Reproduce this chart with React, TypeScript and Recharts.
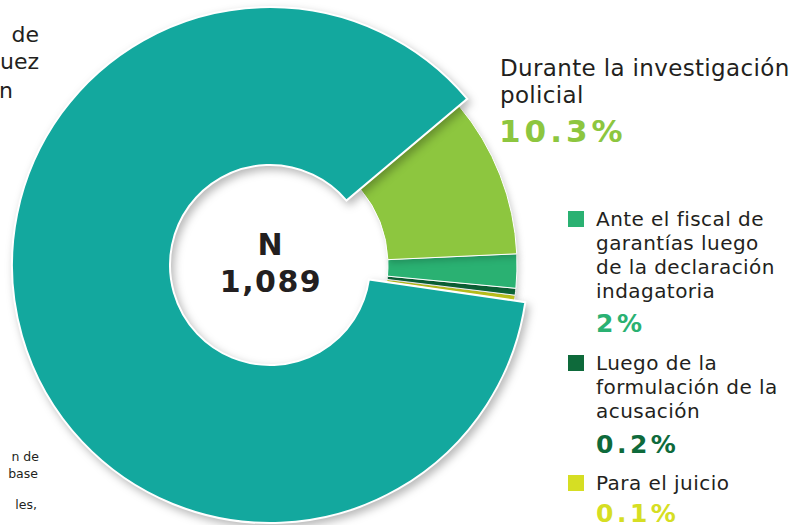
import React from "react";
import { PieChart, Pie, Cell } from "recharts";

// stage of the process, ordered counter-clockwise from the bottom of the green wedge
const stages = [
  "Para el juicio",
  "Luego de la formulación de la acusación",
  "Ante el fiscal de garantías luego de la declaración indagatoria",
  "Durante la investigación policial",
  "Resto",
];
const shares = [0.1, 0.2, 2, 10.3, 87.4];
const colors = ["#d6de23", "#0e6a3b", "#2ab172", "#8dc63f", "#13a89e"];
const shareLabels = ["0.1%", "0.2%", "2%", "10.3%", ""];
const totalN = "1,089";

const data = stages.map((name, i) => ({ name, value: shares[i] }));

// pie starts where the small wedges begin (below 3 o'clock)
const startAngle = -((shares[0] + shares[1] + shares[2]) / 100) * 360;

const CX = 270;
const CY = 265;
const FONT = "Verdana, 'DejaVu Sans', sans-serif";
const TEXT = "#231f20";

const legendItems = [
  { idx: 2, lines: ["Ante el fiscal de", "garantías luego", "de la declaración", "indagatoria"], top: 211, pctY: 332 },
  { idx: 1, lines: ["Luego de la", "formulación de la", "acusación"], top: 355, pctY: 453 },
  { idx: 0, lines: ["Para el juicio"], top: 475, pctY: 522 },
];

const App: React.FC = () => {
  return (
    <div style={{ position: "fixed", left: 0, top: 0, width: 802, height: 525, background: "#fff", overflow: "hidden" }}>
      <style>{`
        .main-pie .recharts-sector { filter: drop-shadow(3px 4px 4px rgba(0,0,0,0.28)); }
        .side-pie .recharts-sector { filter: drop-shadow(2px 3px 3px rgba(0,0,0,0.18)); }
      `}</style>
      <PieChart width={802} height={525} margin={{ top: 0, right: 0, bottom: 0, left: 0 }}>
        {/* small green wedges, slightly thinner ring */}
        <Pie
          className="side-pie"
          data={data}
          dataKey="value"
          cx={CX}
          cy={CY}
          innerRadius={118}
          outerRadius={247}
          startAngle={startAngle}
          endAngle={startAngle + 360}
          minAngle={0.9}
          stroke="#fff"
          strokeWidth={1}
          isAnimationActive={false}
        >
          {data.map((d, i) => (
            <Cell key={d.name} fill={i === 4 ? "transparent" : colors[i]} stroke={i === 4 ? "none" : "#fff"} />
          ))}
        </Pie>
        {/* the big teal wedge */}
        <Pie
          className="main-pie"
          data={data}
          dataKey="value"
          cx={CX}
          cy={CY}
          innerRadius={100}
          outerRadius={258}
          startAngle={startAngle}
          endAngle={startAngle + 360}
          minAngle={0.9}
          stroke="#fff"
          strokeWidth={2}
          isAnimationActive={false}
        >
          {data.map((d, i) => (
            <Cell key={d.name} fill={i === 4 ? colors[4] : "transparent"} stroke={i === 4 ? "#fff" : "none"} />
          ))}
        </Pie>
      </PieChart>

      <svg width={802} height={525} style={{ position: "absolute", left: 0, top: 0, pointerEvents: "none" }}>
        {/* cut-off text on the left */}
        <g fontFamily={FONT} fontSize={22} fill={TEXT} textAnchor="end">
          <text x={39} y={42}>de</text>
          <text x={39} y={69}>uez</text>
          <text x={13} y={98}>n</text>
        </g>
        <g fontFamily={FONT} fontSize={12.5} fill={TEXT} textAnchor="end">
          <text x={39} y={461}>n de</text>
          <text x={38} y={478}>base</text>
          <text x={37} y={509}>les,</text>
        </g>

        {/* centre */}
        <g fontFamily={FONT} fontWeight="bold" fontSize={30} fill={TEXT} textAnchor="middle">
          <text x={CX} y={255}>N</text>
          <text x={CX + 1} y={292} letterSpacing={1.5}>{totalN}</text>
        </g>

        {/* main label */}
        <g fontFamily={FONT}>
          <text x={500} y={76} fontSize={23} letterSpacing={0.35} fill={TEXT}>Durante la investigación</text>
          <text x={500} y={103} fontSize={23} letterSpacing={0.35} fill={TEXT}>policial</text>
          <text x={499} y={142} fontSize={31} letterSpacing={4} fontWeight="bold" fill={colors[3]}>{shareLabels[3]}</text>
        </g>

        {/* legend */}
        {legendItems.map((item) => (
          <g key={item.idx} fontFamily={FONT}>
            <rect x={568} y={item.top} width={16} height={16} fill={colors[item.idx]} />
            {item.lines.map((ln, j) => (
              <text key={j} x={596} y={item.top + 15 + j * 24} fontSize={20} letterSpacing={0.45} fill={TEXT}>{ln}</text>
            ))}
            <text x={596} y={item.pctY} fontSize={25} letterSpacing={3.5} fontWeight="bold" fill={colors[item.idx]}>
              {shareLabels[item.idx]}
            </text>
          </g>
        ))}
      </svg>
    </div>
  );
};

export default App;
